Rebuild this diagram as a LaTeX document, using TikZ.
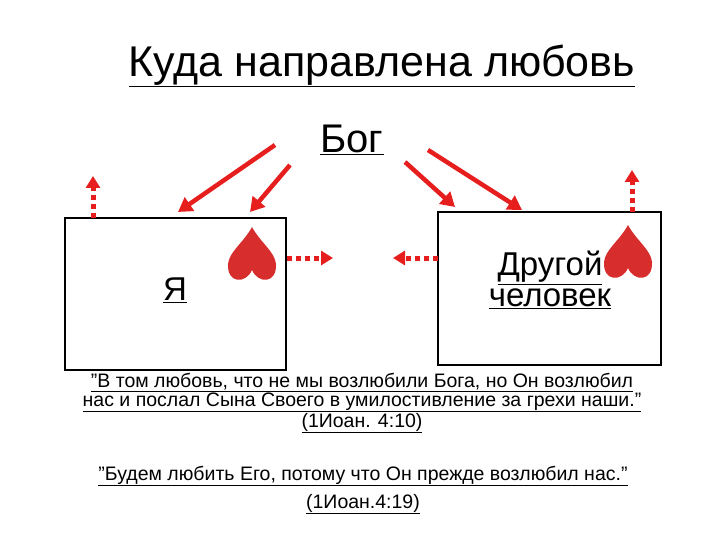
\documentclass[tikz,border=0pt]{standalone}
\usepackage{fontspec}
\setmainfont{Liberation Sans}
\usetikzlibrary{arrows.meta}
\definecolor{rd}{RGB}{230,30,30}
\definecolor{hr}{RGB}{215,45,45}
\tikzset{
 box/.style={draw=black,line width=1.5pt},
 love/.style={draw=rd,line width=4.5pt,-{Triangle[length=14pt,width=16pt]}},
 dots/.style={draw=rd,line width=5pt,dash pattern=on 5pt off 4pt,-{Triangle[length=12pt,width=14pt]}},
 heart/.pic={\fill[hr] (0,16) .. controls (-6,30) and (-25,30) .. (-24,10) .. controls (-23,-2) and (-8,-12) .. (0,-27) .. controls (8,-12) and (23,-2) .. (24,10) .. controls (25,30) and (6,30) .. (0,16) -- cycle;}
}
\begin{document}
\begin{tikzpicture}[x=1pt,y=-1pt]
\useasboundingbox (0,0) rectangle (720,540);
\node (title) at (382,66) {\fontsize{43}{46}\selectfont\underline{Куда направлена любовь}};
\node (god) at (352,140) {\fontsize{40}{42}\selectfont\underline{Бог}};
\draw[box] (65,218) rectangle (286,370);
\draw[box] (438,212) rectangle (661,365);
\node (me) at (175,290) {\fontsize{33}{36}\selectfont\underline{Я}};
\node[align=center,font=\fontsize{33}{31}\selectfont] (other) at (550,280) {\underline{Другой}\\\underline{человек}};
\pic at (252,254) {heart};
\pic at (628,252) {heart};
\coordinate (a1s) at (275,145); \coordinate (a1e) at (178,212);
\coordinate (a2s) at (290,165); \coordinate (a2e) at (250,212);
\coordinate (a3s) at (405,162); \coordinate (a3e) at (455,207);
\coordinate (a4s) at (428,150); \coordinate (a4e) at (522,210);
\draw[love] (a1s) -- (a1e);
\draw[love] (a2s) -- (a2e);
\draw[love] (a3s) -- (a3e);
\draw[love] (a4s) -- (a4e);
\coordinate (d1s) at (93,218); \coordinate (d1e) at (93,176);
\coordinate (d2s) at (632,212); \coordinate (d2e) at (632,170);
\coordinate (d3s) at (287,258); \coordinate (d3e) at (333,258);
\coordinate (d4s) at (438,258); \coordinate (d4e) at (393,258);
\draw[dots] (d1s) -- (d1e);
\draw[dots] (d2s) -- (d2e);
\draw[dots] (d3s) -- (d3e);
\draw[dots] (d4s) -- (d4e);
\node[align=center,font=\fontsize{19.5}{19}\selectfont] (q1) at (362,403) {\underline{”В том любовь, что не мы возлюбили Бога, но Он возлюбил}\\\underline{нас и послал Сына Своего в умилостивление за грехи наши.”}\\\underline{(1Иоан. 4:10)}};
\node[align=center,font=\fontsize{19.5}{19}\selectfont] (q2) at (363,490) {\underline{”Будем любить Его, потому что Он прежде возлюбил нас.”}\\[7pt]\underline{(1Иоан.4:19)}};
\end{tikzpicture}
\end{document}
